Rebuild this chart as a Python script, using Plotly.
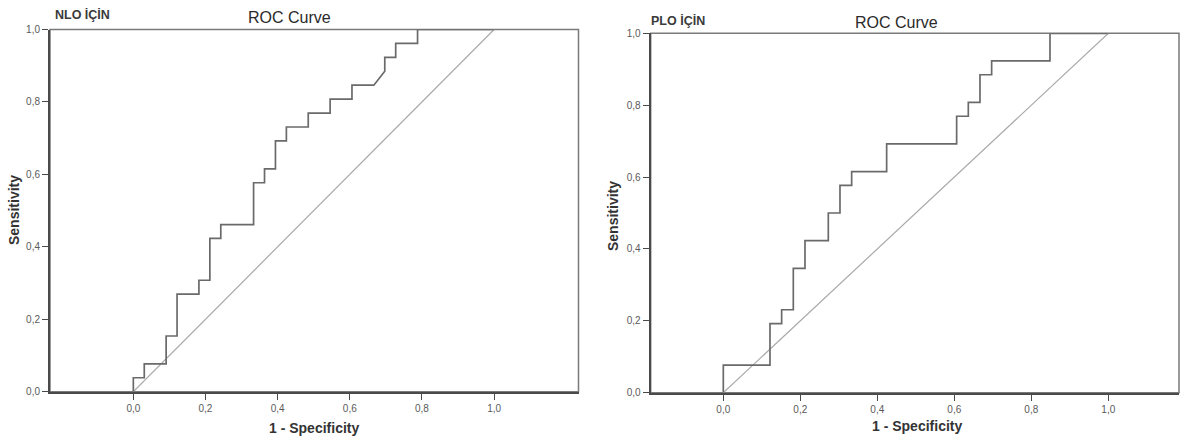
import plotly.graph_objects as go

# ---- data ----
# NLO ROC curve: step vertices, 1 - specificity (x) and sensitivity (y)
nlo_fpr = [0/33, 0/33, 1/33, 1/33, 3/33, 3/33, 4/33, 4/33, 6/33, 6/33, 7/33, 7/33,
           8/33, 8/33, 11/33, 11/33, 12/33, 12/33, 13/33, 13/33, 14/33, 14/33,
           16/33, 16/33, 18/33, 18/33, 20/33, 20/33, 22/33, 23/33, 23/33, 24/33,
           24/33, 26/33, 26/33, 33/33]
nlo_tpr = [0/26, 1/26, 1/26, 2/26, 2/26, 4/26, 4/26, 7/26, 7/26, 8/26, 8/26, 11/26,
           11/26, 12/26, 12/26, 15/26, 15/26, 16/26, 16/26, 18/26, 18/26, 19/26,
           19/26, 20/26, 20/26, 21/26, 21/26, 22/26, 22/26, 23/26, 24/26, 24/26,
           25/26, 25/26, 26/26, 26/26]

# PLO ROC curve
plo_fpr = [0/33, 0/33, 4/33, 4/33, 5/33, 5/33, 6/33, 6/33, 7/33, 7/33, 9/33, 9/33,
           10/33, 10/33, 11/33, 11/33, 14/33, 14/33, 20/33, 20/33, 21/33, 21/33,
           22/33, 22/33, 23/33, 23/33, 28/33, 28/33, 33/33]
plo_tpr = [0/26, 2/26, 2/26, 5/26, 5/26, 6/26, 6/26, 9/26, 9/26, 11/26, 11/26, 13/26,
           13/26, 15/26, 15/26, 16/26, 16/26, 18/26, 18/26, 20/26, 20/26, 21/26,
           21/26, 23/26, 23/26, 24/26, 24/26, 26/26, 26/26]

# reference line
ref_line = [0.0, 1.0]

tick_vals = [0.0, 0.2, 0.4, 0.6, 0.8, 1.0]

FW, FH = 1180, 436
FONT = "Liberation Sans, Arial, sans-serif"

fig = go.Figure()

for xa, ya, fx, ty in [("x", "y", nlo_fpr, nlo_tpr), ("x2", "y2", plo_fpr, plo_tpr)]:
    fig.add_trace(go.Scatter(x=ref_line, y=ref_line, mode="lines",
                             line=dict(color="#a9a9a9", width=1.2),
                             xaxis=xa, yaxis=ya, showlegend=False, hoverinfo="skip"))
    fig.add_trace(go.Scatter(x=fx, y=ty, mode="lines",
                             line=dict(color="#6a6a6a", width=1.7),
                             xaxis=xa, yaxis=ya, showlegend=False))

def px_x(p):
    return p / FW

def px_y(p):
    return 1 - p / FH

axis_common = dict(
    showgrid=False, zeroline=False, showline=True, linecolor="#4a4a4a", linewidth=2,
    ticks="outside", ticklen=6, tickwidth=1.2, tickcolor="#4a4a4a",
    tickvals=tick_vals, tickformat=".1f", automargin=False,
    tickfont=dict(family=FONT, size=10, color="#5a5a5a"),
)

fig.update_layout(
    width=FW, height=FH,
    margin=dict(l=0, r=0, t=0, b=0, pad=0),
    paper_bgcolor="white", plot_bgcolor="white",
    separators=",.",
    showlegend=False,
    xaxis=dict(domain=[px_x(50), px_x(578.5)], range=[-0.231, 1.234],
               anchor="y", **axis_common),
    yaxis=dict(domain=[px_y(391.7), px_y(29.5)], range=[0, 1],
               anchor="x", **axis_common),
    xaxis2=dict(domain=[px_x(650.7), px_x(1179)], range=[-0.1886, 1.1836],
                anchor="y2", **axis_common),
    yaxis2=dict(domain=[px_y(392.7), px_y(33.3)], range=[0, 1],
                anchor="x2", **axis_common),
)

# frame (top/right borders, lighter)
for xr, yr in [("x domain", "y domain"), ("x2 domain", "y2 domain")]:
    fig.add_shape(type="rect", xref=xr, yref=yr, x0=0, x1=1, y0=0, y1=1,
                  line=dict(color="#7a7a7a", width=1.5), layer="below")

ann = []
def text(x, y, s, size, bold=False, angle=0, color="#333333"):
    ann.append(dict(x=px_x(x), y=px_y(y), xref="paper", yref="paper", text=s,
                    showarrow=False, textangle=angle, xanchor="center", yanchor="middle",
                    font=dict(family=FONT, size=size, color=color,
                              weight="bold" if bold else "normal")))

text(82, 14, "NLO İÇİN", 12.5, bold=True, color="#3a3a3a")
text(289, 17, "ROC Curve", 16, color="#2a2a2a")
text(314, 428, "1 - Specificity", 14, bold=True)
text(14, 210, "Sensitivity", 14, bold=True, angle=-90)

text(678, 21, "PLO İÇİN", 12.5, bold=True, color="#3a3a3a")
text(897, 23, "ROC Curve", 16, color="#2a2a2a")
text(917, 426, "1 - Specificity", 14, bold=True)
text(613, 216, "Sensitivity", 14, bold=True, angle=-90)

fig.update_layout(annotations=ann)

# remove the default 8px body margin so the figure sits at the page's top-left corner
fig.write_html("out.html",
               config={"displayModeBar": False},
               post_script="document.body.style.margin='0';document.body.style.overflow='hidden';")
